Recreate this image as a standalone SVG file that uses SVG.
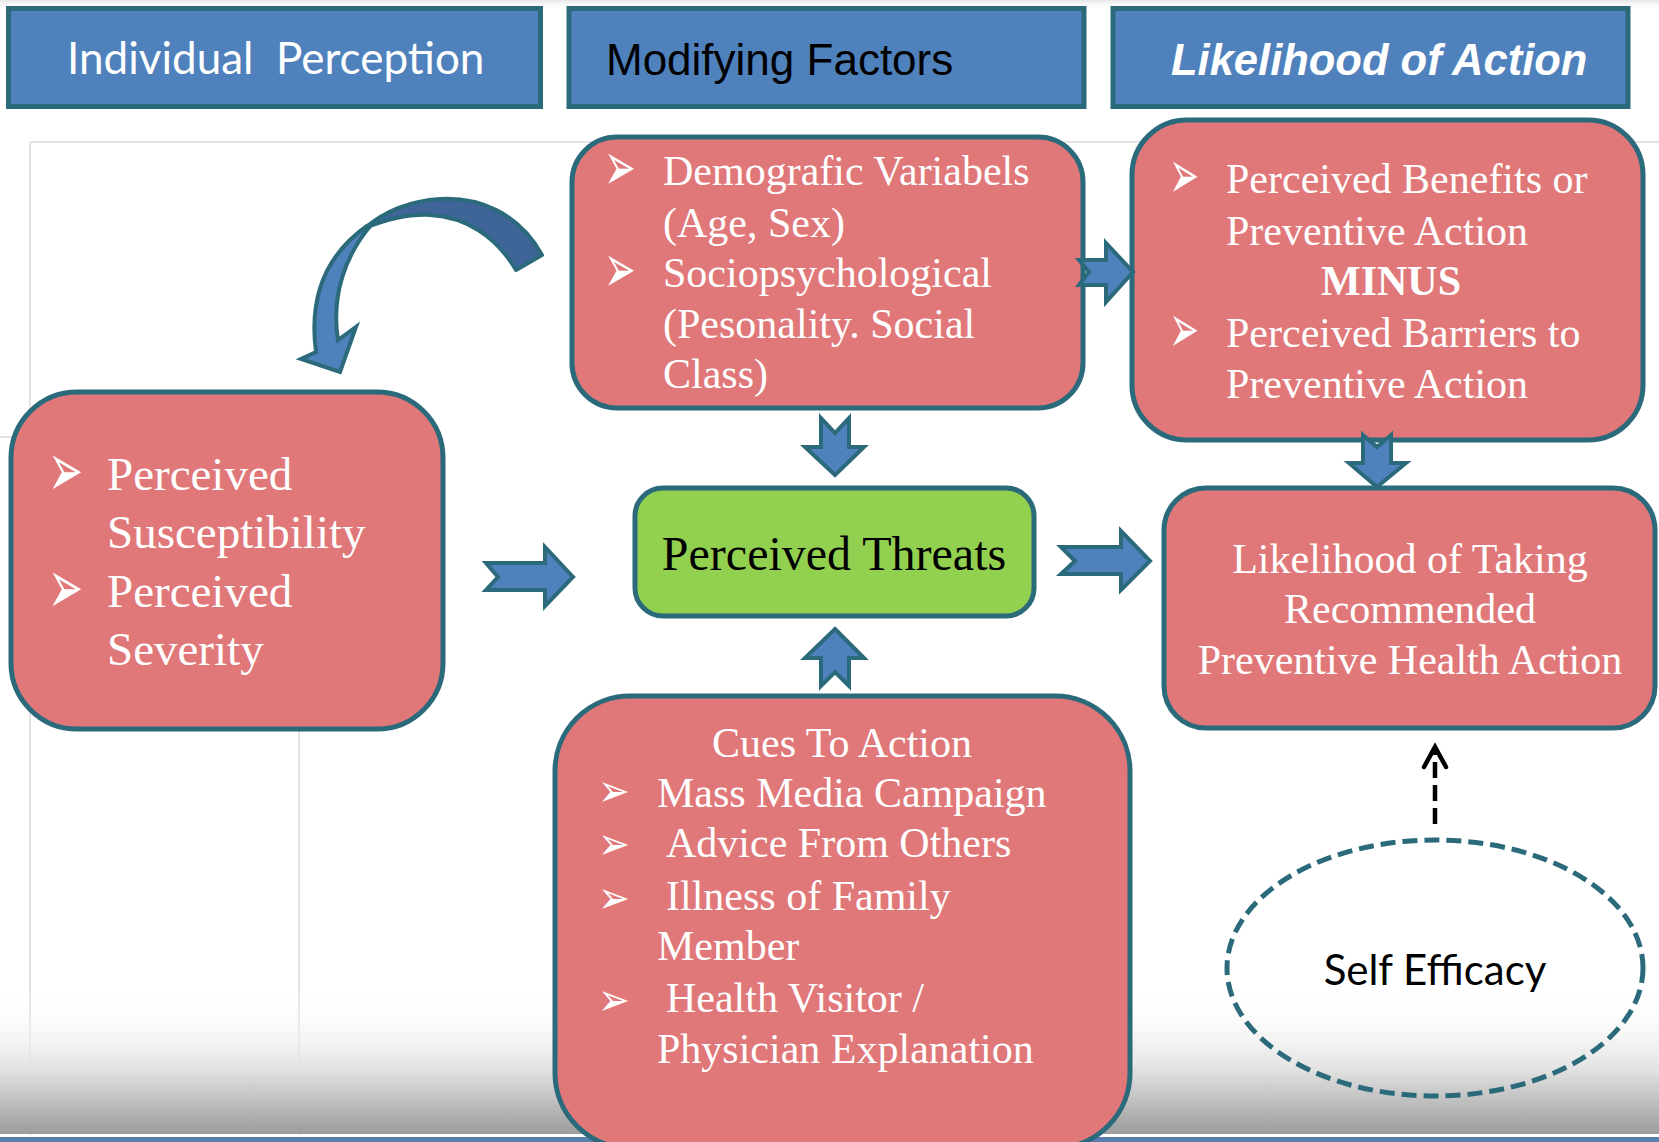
<svg xmlns="http://www.w3.org/2000/svg" width="1659" height="1142" viewBox="0 0 1659 1142">
<defs>
<linearGradient id="botg" x1="0" y1="0" x2="0" y2="1">
<stop offset="0" stop-color="#ffffff" stop-opacity="0"/>
<stop offset="0.55" stop-color="#e2e2e2"/>
<stop offset="1" stop-color="#9c9c9c"/>
</linearGradient>
<linearGradient id="topg" x1="0" y1="0" x2="0" y2="1">
<stop offset="0" stop-color="#e6e6e6"/>
<stop offset="1" stop-color="#ffffff" stop-opacity="0"/>
</linearGradient>
<style>
.hdr{fill:#4f81bd;stroke:#2b6a7b;stroke-width:5}
.box{fill:#e0787a;stroke:#2b6a7b;stroke-width:5}
.grn{fill:#92d050;stroke:#2b6a7b;stroke-width:5}
.arr{fill:#4f81bd;stroke:#2b6a7b;stroke-width:4;stroke-linejoin:miter}
.t{font-family:"Liberation Serif","Times New Roman",serif;fill:#ffffff}
.b{font-family:"DejaVu Sans",sans-serif;fill:#ffffff;font-size:40px}
.frame{stroke:#e3e3e3;stroke-width:2;fill:none}
</style>
</defs>
<rect width="1659" height="1142" fill="#ffffff"/>
<g id="background">
<rect x="0" y="0" width="1659" height="10" fill="url(#topg)"/>
<path class="frame" d="M30 142 H1659 M30 142 V1135 M0 437 H30 M299 730 V1135"/>
<rect x="0" y="990" width="1659" height="144" fill="url(#botg)"/>
<rect x="0" y="1137" width="1659" height="5" fill="#5a7fae"/>
</g>
<g id="header-individual">
<rect class="hdr" x="8.5" y="8.5" width="532" height="98"/>
<text x="67" y="74" xml:space="preserve" font-family="Lato,'Open Sans',sans-serif" font-size="44" fill="#ffffff">Individual  Perception</text>
</g>
<g id="header-modifying">
<rect class="hdr" x="569" y="8.5" width="515" height="98"/>
<text x="606" y="75" font-family="'Liberation Sans',Arial,sans-serif" font-size="44" fill="#000000">Modifying Factors</text>
</g>
<g id="header-likelihood">
<rect class="hdr" x="1113" y="8.5" width="515" height="98"/>
<text x="1171" y="75" font-family="'Liberation Sans',Arial,sans-serif" font-size="43.5" font-weight="bold" font-style="italic" fill="#ffffff">Likelihood of Action</text>
</g>
<g id="curved-arrow">
<path fill="#3f6598" stroke="#2b6a7b" stroke-width="4" stroke-linejoin="round" d="M542 255 C518 212 478 197 440 199 C408 201 384 212 365 228 C390 218 410 214 430 215 C466 217 496 236 516 270 Z"/>
<path class="arr" d="M367 226 C330 252 308 292 316 352 L301 359 L340 372 L356 327 L338 340 C331 296 345 255 372 224 Z"/>
</g>
<g id="node-perception">
<rect class="box" x="11" y="392" width="432" height="337" rx="66"/>
<g font-size="47">
<text class="b" transform="translate(48,496) scale(1.05,1.9)">➢</text>
<text class="t" x="107" y="490">Perceived</text>
<text class="t" x="107" y="548">Susceptibility</text>
<text class="b" transform="translate(48,613) scale(1.05,1.9)">➢</text>
<text class="t" x="107" y="607">Perceived</text>
<text class="t" x="107" y="665">Severity</text>
</g>
</g>
<g id="node-modifying">
<rect class="box" x="572" y="137" width="511" height="271" rx="45"/>
<g font-size="42">
<text class="b" transform="translate(604,190) scale(0.95,1.7)">➢</text>
<text class="t" x="663" y="185">Demografic Variabels</text>
<text class="t" x="663" y="237">(Age, Sex)</text>
<text class="b" transform="translate(604,292) scale(0.95,1.7)">➢</text>
<text class="t" x="663" y="287">Sociopsychological</text>
<text class="t" x="663" y="338">(Pesonality. Social</text>
<text class="t" x="663" y="388">Class)</text>
</g>
</g>
<g id="node-benefits">
<rect class="box" x="1132" y="120" width="511" height="320" rx="55"/>
<g font-size="42">
<text class="b" transform="translate(1169,198) scale(0.9,1.7)">➢</text>
<text class="t" x="1226" y="193">Perceived Benefits or</text>
<text class="t" x="1226" y="245">Preventive Action</text>
<text class="t" x="1391" y="295" text-anchor="middle" font-weight="bold">MINUS</text>
<text class="b" transform="translate(1169,352) scale(0.9,1.7)">➢</text>
<text class="t" x="1226" y="347">Perceived Barriers to</text>
<text class="t" x="1226" y="398">Preventive Action</text>
</g>
</g>
<g id="node-threats">
<rect class="grn" x="635" y="488" width="399" height="128" rx="28"/>
<text x="834" y="570" text-anchor="middle" font-family="'Liberation Serif','Times New Roman',serif" font-size="48" fill="#000000">Perceived Threats</text>
</g>
<g id="node-action">
<rect class="box" x="1164" y="488" width="491" height="240" rx="42"/>
<g font-size="42" text-anchor="middle">
<text class="t" x="1410" y="573">Likelihood of Taking</text>
<text class="t" x="1410" y="623">Recommended</text>
<text class="t" x="1410" y="674">Preventive Health Action</text>
</g>
</g>
<g id="node-cues">
<rect class="box" x="555" y="696" width="575" height="452" rx="75"/>
<g font-size="42">
<text class="t" x="842" y="757" text-anchor="middle">Cues To Action</text>
<text class="b" transform="translate(598,806) scale(0.95,1.12)">➢</text>
<text class="b" transform="translate(598,859) scale(0.95,1.12)">➢</text>
<text class="b" transform="translate(598,913) scale(0.95,1.12)">➢</text>
<text class="b" transform="translate(598,1015) scale(0.95,1.12)">➢</text>
<text class="t" x="657" y="807">Mass Media Campaign</text>
<text class="t" x="666" y="857">Advice From Others</text>
<text class="t" x="666" y="910">Illness of Family</text>
<text class="t" x="657" y="960">Member</text>
<text class="t" x="666" y="1012">Health Visitor /</text>
<text class="t" x="657" y="1063">Physician Explanation</text>
</g>
</g>
<g id="node-self-efficacy">
<ellipse cx="1435" cy="968" rx="208" ry="128" fill="none" stroke="#2b6a7b" stroke-width="5" stroke-dasharray="15 7"/>
<text x="1435" y="985" text-anchor="middle" font-family="Lato,'Open Sans',sans-serif" font-size="42" fill="#000000">Self Efficacy</text>
</g>
<g id="connectors">
<polygon class="arr" points="1079,260 1106,260 1106,243 1133,272 1106,302 1106,285 1079,285 1089,272"/>
<polygon class="arr" points="486,563 545,563 545,547 573,577 545,606 545,590 486,590 498,577"/>
<polygon class="arr" points="1061,547 1121,547 1121,531 1150,561 1121,590 1121,574 1061,574 1075,561"/>
<polygon class="arr" points="821,418 835,433 849,418 849,447 864,447 835,475 805,447 821,447"/>
<polygon class="arr" points="835,629 864,658 849,658 849,686 835,672 821,686 821,658 805,658"/>
<polygon class="arr" points="1363,435 1377,447 1391,435 1391,463 1406,463 1377,487 1349,463 1363,463"/>
<line x1="1435" y1="824" x2="1435" y2="752" stroke="#000000" stroke-width="4.5" stroke-dasharray="16 7"/>
<polyline points="1424,767 1435,747 1446,767" fill="none" stroke="#000000" stroke-width="4.5" stroke-linecap="round" stroke-linejoin="miter"/>
</g>
</svg>
